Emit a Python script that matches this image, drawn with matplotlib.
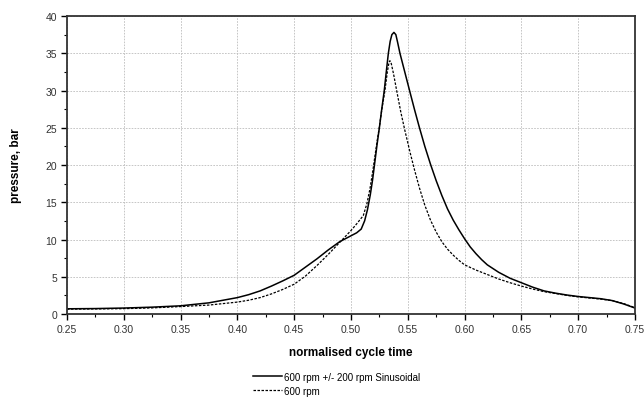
import matplotlib
matplotlib.use("Agg")
import matplotlib.pyplot as plt
from matplotlib.ticker import MultipleLocator

plt.rcParams['font.family'] = ['Liberation Sans', 'DejaVu Sans']

# pressure trace, 600 rpm with +/- 200 rpm sinusoidal speed variation
t_sin = [0.25, 0.275, 0.30, 0.325, 0.35, 0.375, 0.40, 0.41, 0.42, 0.43,
         0.44, 0.45, 0.46, 0.47, 0.48, 0.49, 0.50, 0.505, 0.509, 0.512,
         0.5145, 0.517, 0.519, 0.521, 0.523, 0.525, 0.527, 0.5293, 0.531,
         0.5329, 0.5345, 0.536, 0.5378, 0.5395, 0.541, 0.5431, 0.5475,
         0.5519, 0.556, 0.5601, 0.565, 0.570, 0.575, 0.580, 0.585, 0.590,
         0.595, 0.60, 0.605, 0.61, 0.615, 0.62, 0.63, 0.64, 0.65, 0.66,
         0.67, 0.68, 0.69, 0.70, 0.71, 0.72, 0.73, 0.74, 0.75]
p_sin = [0.70, 0.73, 0.80, 0.92, 1.1, 1.5, 2.2, 2.6, 3.1, 3.75,
         4.45, 5.2, 6.3, 7.4, 8.6, 9.7, 10.5, 10.9, 11.4, 12.5,
         14.0, 16.0, 18.0, 20.4, 22.8, 25.0, 27.4, 30.0, 32.4,
         35.0, 36.6, 37.5, 37.8, 37.5, 36.5, 35.0, 32.4,
         29.8, 27.4, 25.1, 22.5, 20.1, 17.9, 15.9, 14.1, 12.6,
         11.3, 10.1, 9.0, 8.1, 7.3, 6.6, 5.6, 4.8, 4.2, 3.6,
         3.1, 2.8, 2.55, 2.35, 2.2, 2.05, 1.8, 1.35, 0.8]

# pressure trace, constant 600 rpm
t_const = [0.25, 0.275, 0.30, 0.325, 0.35, 0.375, 0.40, 0.41, 0.42, 0.43,
           0.44, 0.45, 0.46, 0.47, 0.48, 0.49, 0.50, 0.505, 0.5108, 0.514,
           0.5167, 0.519, 0.5211, 0.523, 0.5249, 0.527, 0.5299, 0.532,
           0.5335, 0.5343, 0.5355, 0.5375, 0.5402, 0.544, 0.5475, 0.552,
           0.556, 0.5605, 0.565, 0.570, 0.575, 0.580, 0.585, 0.590, 0.595,
           0.60, 0.61, 0.62, 0.63, 0.64, 0.65, 0.66, 0.67, 0.68, 0.69, 0.70,
           0.71, 0.72, 0.73, 0.74, 0.75]
p_const = [0.65, 0.68, 0.72, 0.82, 1.0, 1.2, 1.6, 1.85, 2.2, 2.7,
           3.3, 4.0, 5.1, 6.5, 8.0, 9.6, 11.2, 12.1, 13.2, 14.8,
           16.8, 19.0, 21.2, 23.2, 25.0, 27.3, 30.0, 32.5,
           33.8, 34.0, 33.6, 32.2, 30.0, 27.0, 24.6, 21.7,
           19.3, 16.8, 14.6, 12.6, 11.0, 9.7, 8.7, 7.9, 7.2,
           6.6, 5.9, 5.3, 4.7, 4.2, 3.75, 3.35, 3.0, 2.75, 2.5, 2.3,
           2.15, 2.0, 1.8, 1.4, 0.85]

fig = plt.figure(figsize=(6.44, 4.02), dpi=100)
ax = fig.add_axes([0.104, 0.2164, 0.882, 0.7413])

ax.plot(t_sin, p_sin, color='black', lw=1.1, label='600 rpm +/- 200 rpm Sinusoidal')
ax.plot(t_const, p_const, color='black', lw=0.9, linestyle=(0, (2, 1.2)), label='600 rpm')

ax.set_xlim(0.25, 0.75)
ax.set_ylim(0, 40)
ax.xaxis.set_major_locator(MultipleLocator(0.05))
ax.xaxis.set_minor_locator(MultipleLocator(0.025))
ax.yaxis.set_major_locator(MultipleLocator(5))
ax.yaxis.set_minor_locator(MultipleLocator(2.5))
ax.set_xticklabels([f'{v:.2f}' for v in ax.get_xticks()])

ax.grid(True, which='major', color='#bdbdbd', lw=0.6, linestyle=(0, (2, 1.5)))
ax.tick_params(which='major', direction='out', length=4, width=1, labelsize=7.5,
               labelcolor='#333333', pad=3)
ax.tick_params(which='minor', direction='out', length=2.5, width=0.8)
for s in ax.spines.values():
    s.set_linewidth(1.3)
    s.set_color('#333333')

ax.set_xlabel('normalised cycle time', fontsize=8.5, fontweight='bold', labelpad=9)
ax.set_ylabel('pressure, bar', fontsize=8.5, fontweight='bold', labelpad=17)

fig.legend(loc='center left', bbox_to_anchor=(0.385, 0.043), frameon=False,
           fontsize=7, handlelength=3.0, handletextpad=0.2, labelspacing=0.45,
           borderpad=0)

fig.savefig('out.png', dpi=100)
